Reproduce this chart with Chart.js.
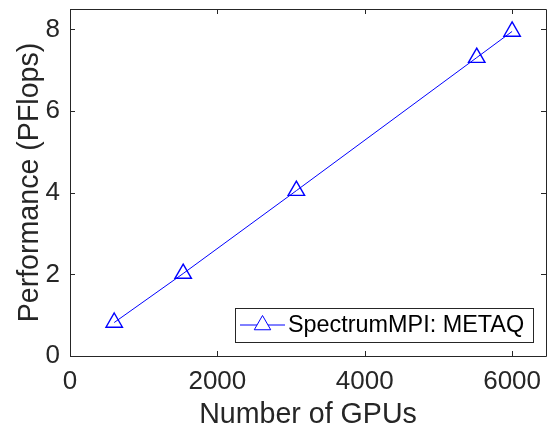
<!DOCTYPE html>
<html>
<head>
<meta charset="utf-8">
<script src="https://cdn.jsdelivr.net/npm/chart.js@4/dist/chart.umd.min.js"></script>
<style>
  body { margin: 0; background: #fff; }
  canvas { display: block; }
</style>
</head>
<body>
<canvas id="perfChart" width="549" height="432"></canvas>
<script>
// Data
let gpus = [600, 1536, 3072, 5520, 6000];
let pflops = [0.82, 2.02, 4.05, 7.31, 7.95];
let seriesLabel = "SpectrumMPI: METAQ";
let xTicks = [0, 2000, 4000, 6000];
let yTicks = [0, 2, 4, 6, 8];

let axisColor = "#262626";
let blue = "#0000ff";
let fontName = "'Liberation Sans', Arial, Helvetica, sans-serif";

// box + inward ticks on all four sides, MATLAB style
let boxPlugin = {
    id: "boxTicks",
    afterDraw(chart) {
        let ctx = chart.ctx;
        let a = chart.chartArea;
        let xs = chart.scales.x;
        let ys = chart.scales.y;
        let len = 5;
        ctx.save();
        ctx.strokeStyle = axisColor;
        ctx.lineWidth = 1;
        ctx.beginPath();
        ctx.rect(Math.round(a.left) + 0.5, Math.round(a.top) + 0.5,
                 Math.round(a.right - a.left), Math.round(a.bottom - a.top));
        xTicks.forEach(v => {
            let px = Math.round(xs.getPixelForValue(v)) + 0.5;
            ctx.moveTo(px, a.bottom); ctx.lineTo(px, a.bottom - len);
            ctx.moveTo(px, a.top); ctx.lineTo(px, a.top + len);
        });
        yTicks.forEach(v => {
            let py = Math.round(ys.getPixelForValue(v)) + 0.5;
            ctx.moveTo(a.left, py); ctx.lineTo(a.left + len, py);
            ctx.moveTo(a.right, py); ctx.lineTo(a.right - len, py);
        });
        ctx.stroke();

        // legend box in the lower right corner
        let bx = 235, by = 308, bw = 298, bh = 34;
        ctx.fillStyle = "#fff";
        ctx.fillRect(bx, by, bw, bh);
        ctx.strokeRect(bx + 0.5, by + 0.5, bw, bh);
        let ly = by + bh / 2;
        ctx.strokeStyle = blue;
        ctx.beginPath();
        ctx.moveTo(bx + 5, ly); ctx.lineTo(bx + 50, ly);
        ctx.stroke();
        let ds = chart.data.datasets[0];
        Chart.helpers.drawPoint(ctx, {
            pointStyle: "triangle", radius: ds.pointRadius,
            borderWidth: ds.pointBorderWidth
        }, bx + 27.5, ly);
        ctx.fillStyle = "#000";
        ctx.font = "23.4px " + fontName;
        ctx.textBaseline = "middle";
        ctx.fillText(ds.label, bx + 53, ly + 1);
        ctx.restore();
    }
};

let ctx1 = document.getElementById("perfChart").getContext("2d");
let perfChart = new Chart(ctx1, {
    type: "line",
    data: {
        datasets: [
            {
                label: seriesLabel,
                data: gpus.map((g, i) => ({ x: g, y: pflops[i] })),
                borderColor: blue,
                backgroundColor: "rgba(0,0,0,0)",
                borderWidth: 1,
                pointStyle: "triangle",
                pointRadius: 9.5,
                pointBorderWidth: 1.4,
                pointBorderColor: blue,
                pointBackgroundColor: "rgba(0,0,0,0)",
                tension: 0,
                clip: false,
            },
        ],
    },
    options: {
        responsive: false,
        animation: false,
        layout: { autoPadding: false, padding: { top: 9, right: 3, left: 0, bottom: 0 } },
        plugins: { legend: { display: false }, tooltip: { enabled: false } },
        scales: {
            x: {
                type: "linear",
                min: 0,
                max: 6460,
                afterBuildTicks: s => { s.ticks = xTicks.map(v => ({ value: v })); },
                afterFit: s => { s.height = 76; s.paddingLeft = 0; s.paddingRight = 0; },
                grid: { display: false, drawTicks: false },
                border: { display: false },
                ticks: {
                    color: axisColor, font: { family: fontName, size: 26 }, padding: 10, maxRotation: 0,
                    callback: v => String(v),
                },
                title: {
                    display: true,
                    text: "Number of GPUs",
                    color: axisColor,
                    font: { family: fontName, size: 28.6 },
                    padding: { top: 0, bottom: 0 },
                },
            },
            y: {
                min: 0,
                max: 8.5,
                afterBuildTicks: s => { s.ticks = yTicks.map(v => ({ value: v })); },
                afterFit: s => { s.width = 70; s.paddingTop = 0; s.paddingBottom = 0; },
                grid: { display: false, drawTicks: false },
                border: { display: false },
                ticks: {
                    color: axisColor, font: { family: fontName, size: 26 }, padding: 10,
                    callback: v => String(v),
                },
                title: {
                    display: true,
                    text: "Performance (PFlops)",
                    color: axisColor,
                    font: { family: fontName, size: 28.6 },
                    padding: { top: 13, bottom: 0 },
                },
            },
        },
    },
    plugins: [boxPlugin],
});
</script>
</body>
</html>
